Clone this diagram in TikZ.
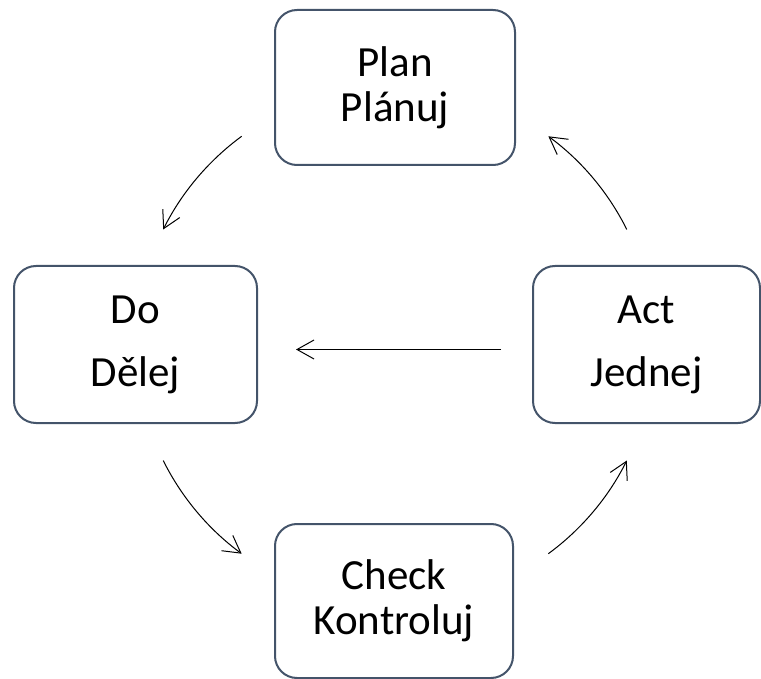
\documentclass[tikz,border=0pt]{standalone}
\usepackage{fontspec}
\setmainfont{Carlito}
\usepackage{tikz}
\usetikzlibrary{arrows.meta, positioning, calc}
\definecolor{boxline}{RGB}{68,84,106}

\begin{document}
\begin{tikzpicture}[x=1pt, y=1pt,
  phase/.style={rectangle, rounded corners=22pt, draw=boxline, line width=2pt, align=center, font=\fontsize{43}{45}\selectfont},
  widephase/.style={phase, font=\fontsize{43}{63}\selectfont},
  cyc/.style={-{Straight Barb[length=17pt, width=19pt]}, line width=1pt}
]
  \useasboundingbox (0,0) rectangle (761,-679);
  \coordinate (hub) at (395,-345);

  \node[phase, minimum width=240pt, minimum height=155pt] (plan) at (395,-87.5) {Plan\\Plánuj};
  \node[widephase, minimum width=243pt, minimum height=157pt] (do) at (135.5,-344.5) {Do\\Dělej};
  \node[widephase, minimum width=227pt, minimum height=157pt] (act) at (646.5,-344.5) {Act\\Jednej};
  \node[phase, minimum width=238pt, minimum height=154pt] (check) at (394,-601) {Check\\Kontroluj};

  % cycle arrows round the hub
  \draw[cyc] (hub) ++(126.3:259) arc[start angle=126.3, delta angle=27.2, radius=259];
  \draw[cyc] (hub) ++(206.5:259) arc[start angle=206.5, delta angle=27.2, radius=259];
  \draw[cyc] (hub) ++(306.3:259) arc[start angle=306.3, delta angle=27.2, radius=259];
  \draw[cyc] (hub) ++(26.5:259) arc[start angle=26.5, delta angle=27.2, radius=259];

  \draw[cyc, shorten <=31pt, shorten >=38pt] ([yshift=-5pt]act.west) -- ([yshift=-5pt]do.east);
\end{tikzpicture}
\end{document}
